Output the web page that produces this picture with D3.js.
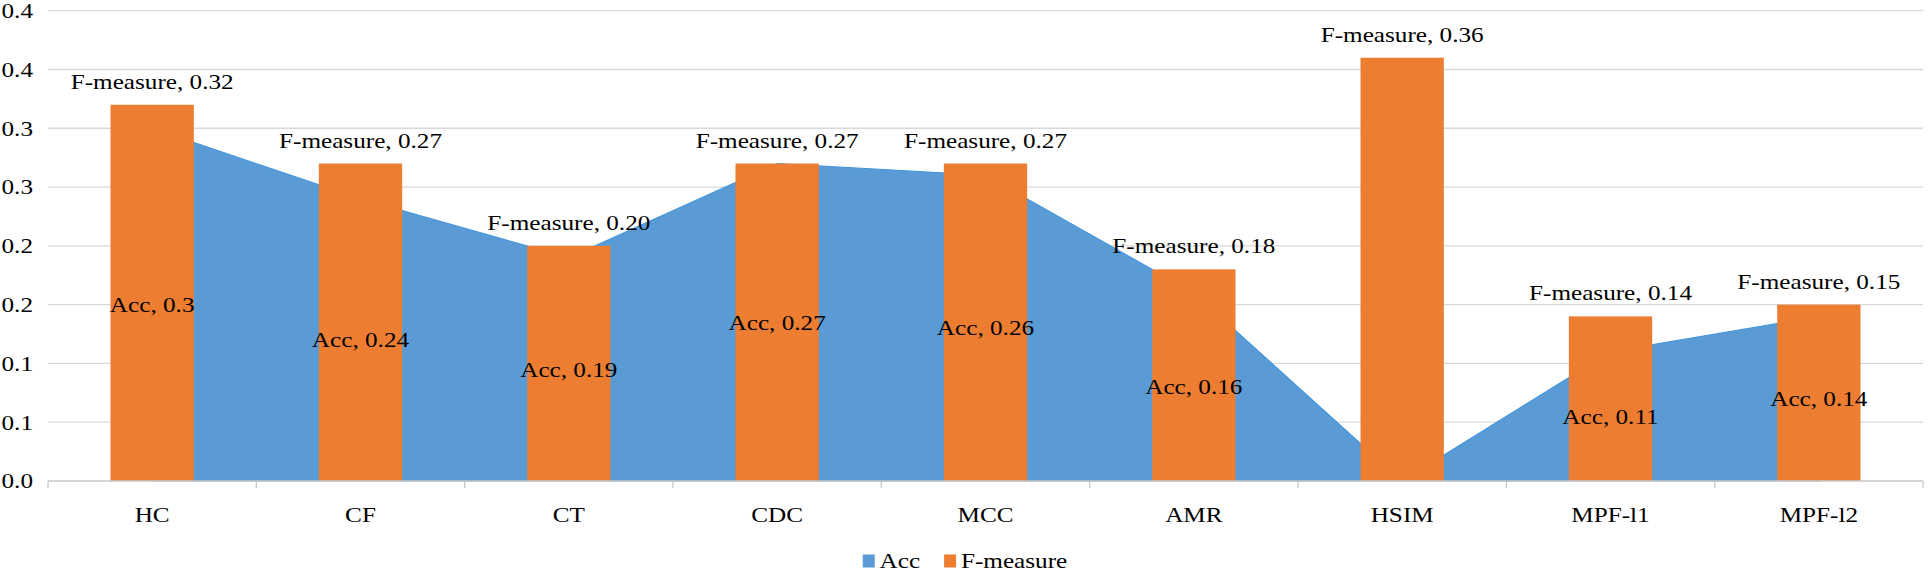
<!DOCTYPE html>
<html>
<head>
<meta charset="utf-8">
<script src="https://cdn.jsdelivr.net/npm/d3@7"></script>
<style>
  html, body { margin: 0; padding: 0; background: #ffffff; }
  svg { display: block; }
  text { font-family: "Liberation Serif", "Times New Roman", serif; fill: #000; }
</style>
</head>
<body>
<svg id="chart"></svg>
<script>
const categories = ["HC", "CF", "CT", "CDC", "MCC", "AMR", "HSIM", "MPF-l1", "MPF-l2"];
const accValues = [0.30, 0.24, 0.19, 0.27, 0.26, 0.16, 0.00, 0.11, 0.14];
const fValues = [0.32, 0.27, 0.20, 0.27, 0.27, 0.18, 0.36, 0.14, 0.15];
const accLabels = ["Acc, 0.3", "Acc, 0.24", "Acc, 0.19", "Acc, 0.27", "Acc, 0.26", "Acc, 0.16", "", "Acc, 0.11", "Acc, 0.14"];
const fLabels = ["F-measure, 0.32", "F-measure, 0.27", "F-measure, 0.20", "F-measure, 0.27", "F-measure, 0.27", "F-measure, 0.18", "F-measure, 0.36", "F-measure, 0.14", "F-measure, 0.15"];
const yTickValues = [0, 0.05, 0.10, 0.15, 0.20, 0.25, 0.30, 0.35, 0.40];
const yTickLabels = ["0.0", "0.1", "0.1", "0.2", "0.2", "0.3", "0.3", "0.4", "0.4"];
const seriesNames = ["Acc", "F-measure"];
const seriesColors = ["#5b9bd5", "#ed7d31"];

// The reference is horizontally stretched; draw in an inner coordinate system
const OUT_W = 1930, OUT_H = 572, SX = 1.2;
const W = OUT_W / SX, H = OUT_H;
const margin = { left: 40, right: W - 1602.5, top: 10.7, bottom: H - 481 };

const svg = d3.select("#chart")
  .attr("width", OUT_W).attr("height", OUT_H)
  .attr("viewBox", `0 0 ${W} ${H}`)
  .attr("preserveAspectRatio", "none");

const x = d3.scaleBand().domain(categories).range([margin.left, W - margin.right]).padding(0);
const y = d3.scaleLinear().domain([0, 0.4]).range([H - margin.bottom, margin.top]);
const bw = x.bandwidth();
const cx = c => x(c) + bw / 2;
const fontSize = 21;

// gridlines
svg.append("g").selectAll("line").data(yTickValues.filter(v => v > 0)).join("line")
  .attr("x1", margin.left).attr("x2", W - margin.right)
  .attr("y1", d => y(d)).attr("y2", d => y(d))
  .attr("stroke", "#d9d9d9").attr("stroke-width", 1.3);

// y labels
svg.append("g").selectAll("text").data(yTickValues).join("text")
  .attr("x", 27.5).attr("y", d => y(d)).attr("dy", "0.35em")
  .attr("text-anchor", "end").attr("font-size", fontSize)
  .text((d, i) => yTickLabels[i]);

// area for Acc
const accData = categories.map((c, i) => ({ c, v: accValues[i] }));
const area = d3.area().x(d => cx(d.c)).y0(y(0)).y1(d => y(d.v));
svg.append("path").datum(accData)
  .attr("d", area)
  .attr("fill", seriesColors[0])
  .attr("stroke", "#3f95dc").attr("stroke-width", 1);

// bars for F-measure
const barW = bw * 0.4;
const fData = categories.map((c, i) => ({ c, v: fValues[i], label: fLabels[i] }));
svg.append("g").selectAll("rect").data(fData).join("rect")
  .attr("x", d => cx(d.c) - barW / 2)
  .attr("width", barW)
  .attr("y", d => y(d.v))
  .attr("height", d => y(0) - y(d.v))
  .attr("fill", seriesColors[1]);

// x axis line and boundary ticks
const axisG = svg.append("g").attr("transform", `translate(0,${y(0)})`);
axisG.append("line").attr("x1", margin.left).attr("x2", W - margin.right)
  .attr("y1", 0).attr("y2", 0).attr("stroke", "#c8c8c8").attr("stroke-width", 1.3);
const boundaries = categories.map(c => x(c)).concat([W - margin.right]);
axisG.selectAll("line.tick").data(boundaries).join("line").attr("class", "tick")
  .attr("x1", d => d).attr("x2", d => d).attr("y1", 0).attr("y2", 7)
  .attr("stroke", "#c8c8c8").attr("stroke-width", 1.1);

// category labels via d3 axis
const xAxis = d3.axisBottom(x).tickSize(0).tickPadding(0);
const xg = svg.append("g").attr("transform", `translate(0,0)`).call(xAxis);
xg.select(".domain").remove();
xg.selectAll(".tick").attr("transform", d => `translate(${cx(d)},0)`);
xg.selectAll(".tick text")
  .attr("y", 522).attr("dy", 0)
  .attr("font-size", fontSize)
  .attr("font-family", '"Liberation Serif", "Times New Roman", serif')
  .attr("fill", "#000");

// F-measure labels
svg.append("g").selectAll("text").data(fData).join("text")
  .attr("x", d => cx(d.c)).attr("y", d => y(d.v) - 16)
  .attr("text-anchor", "middle").attr("font-size", fontSize)
  .text(d => d.label);

// Acc labels (centered at half height)
svg.append("g").selectAll("text").data(accData.map((d, i) => ({ ...d, label: accLabels[i] })).filter(d => d.label)).join("text")
  .attr("x", d => cx(d.c)).attr("y", d => y(d.v / 2)).attr("dy", "0.35em")
  .attr("text-anchor", "middle").attr("font-size", fontSize)
  .text(d => d.label);

// legend
const legend = svg.append("g");
const items = [];
let cur = 0;
seriesNames.forEach((name, i) => {
  const g = legend.append("g");
  g.append("rect").attr("x", 0).attr("y", -6.5).attr("width", 10).attr("height", 13).attr("fill", seriesColors[i]);
  const t = g.append("text").attr("x", 14).attr("y", 0).attr("dy", "0.35em").attr("font-size", fontSize).text(name);
  const w = 14 + t.node().getComputedTextLength();
  g.attr("transform", `translate(${cur},0)`);
  cur += w + 20;
});
const totalW = cur - 20;
legend.attr("transform", `translate(${W / 2 - totalW / 2},561)`);
</script>
</body>
</html>
